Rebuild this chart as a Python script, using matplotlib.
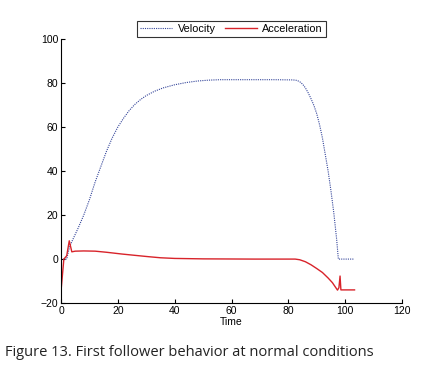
import numpy as np
import matplotlib.pyplot as plt

# values
vel_t = [0, 2, 3, 4, 6, 8, 10, 12, 14, 16, 18, 20, 22, 24, 26, 28, 30, 33, 36, 40, 44, 48,
         52, 56, 65, 75, 81.7, 83, 84, 85, 86, 87, 88, 89, 90, 91, 92, 93, 94, 95, 96, 97,
         97.6, 102.9]
vel_v = [0, 0, 5.5, 8.5, 14, 20, 27, 35, 42, 49, 55, 60, 64, 67.5, 70.3, 72.5, 74.3, 76.3,
         77.8, 79.2, 80.2, 80.9, 81.3, 81.5, 81.5, 81.5, 81.4, 81.2, 80.6, 79.5, 77.8, 75.5,
         72.8, 69.8, 66, 61, 55, 47.5, 40, 31, 21, 9, 0, 0]

acc_t = [0, 0.1, 1.0, 2.0, 2.9, 3.8, 5, 8, 12, 16, 21.4, 26, 30.7, 35, 40, 50, 68, 82.4,
         84, 86, 88, 90, 92, 94, 95.5, 96.5, 97.3, 97.8, 98.2, 98.5, 103.3]
acc_a = [0, -13, 0, 1.5, 8.3, 3.3, 3.6, 3.7, 3.6, 3.1, 2.3, 1.7, 1.1, 0.6, 0.3, 0.1, 0, 0,
         -0.3, -1.2, -2.6, -4.3, -6.1, -8.6, -10.7, -12.6, -14.1, -13, -7.7, -14, -14]

xticks = [0, 20, 40, 60, 80, 100, 120]
yticks = [-20, 0, 20, 40, 60, 80, 100]

plt.rcParams['font.family'] = ['Liberation Sans', 'DejaVu Sans']

fig = plt.figure(figsize=(4.22, 3.77), dpi=100)
ax = fig.add_axes([0.1446, 0.196, 0.808, 0.7006])

ax.plot(vel_t, vel_v, linestyle=(0, (1, 1)), color='#34459a', lw=0.8, label='Velocity')
ax.plot(acc_t, acc_a, '-', color='#d8232a', lw=1.0, label='Acceleration')

ax.set_xlim(0, 120)
ax.set_ylim(-20, 100)
ax.set_xticks(xticks)
ax.set_yticks(yticks)
ax.tick_params(direction='in', length=3, width=0.8, labelsize=7.5, pad=2)
for side in ('top', 'right'):
    ax.spines[side].set_visible(False)
for side in ('left', 'bottom'):
    ax.spines[side].set_linewidth(0.8)
ax.set_xlabel('Time', fontsize=7.5, labelpad=1)

leg = ax.legend(loc='lower center', bbox_to_anchor=(0.5, 1.0), ncol=2, fontsize=7.8,
                frameon=True, fancybox=False, edgecolor='black', borderpad=0.3,
                handlelength=3.0, columnspacing=0.8, handletextpad=0.5, borderaxespad=0.15)
leg.get_frame().set_linewidth(0.8)

fig.text(0.012, 0.065, 'Figure 13. First follower behavior at normal conditions',
         fontsize=10.5, family=['Open Sans', 'DejaVu Sans'], color='#222222', va='center')

fig.savefig('out.png', dpi=100)
